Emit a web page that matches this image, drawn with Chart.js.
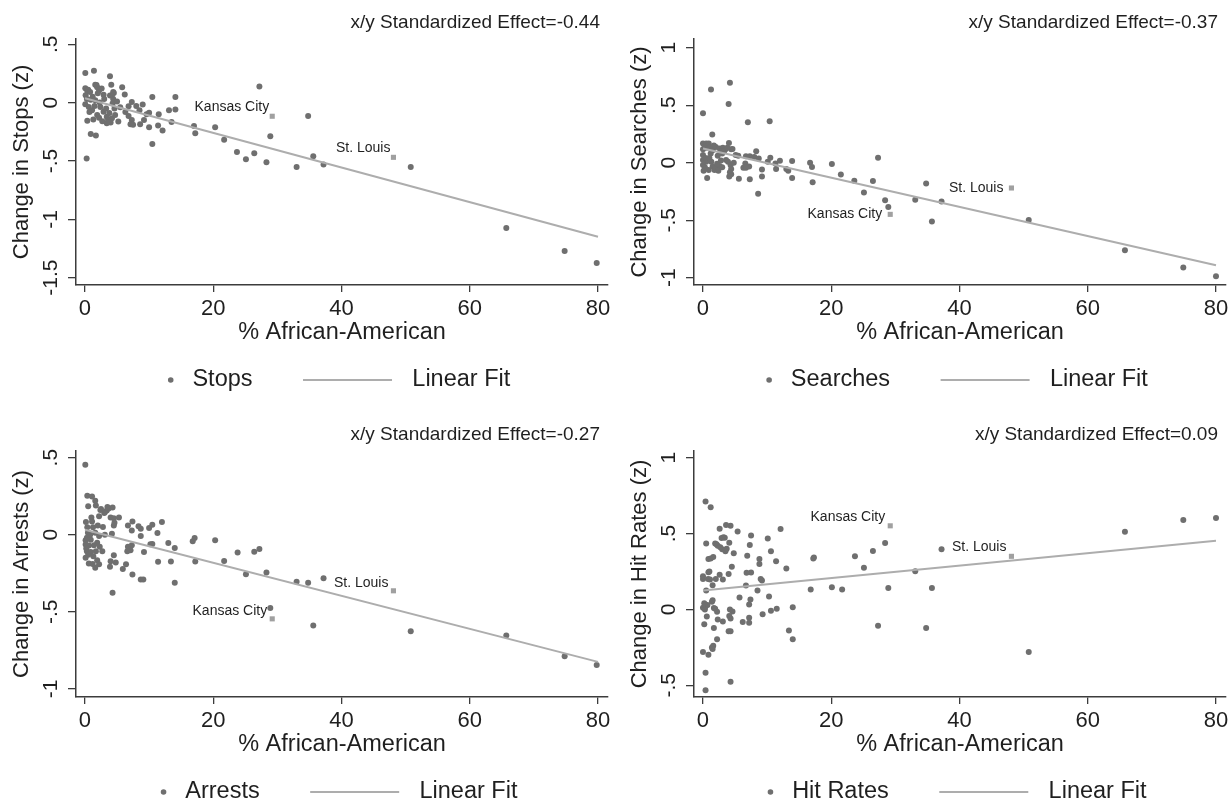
<!DOCTYPE html>
<html>
<head>
<meta charset="utf-8">
<title>Change in stops, searches, arrests and hit rates vs % African-American</title>
<script src="https://cdn.jsdelivr.net/npm/chart.js"></script>
<style>
    html, body { margin: 0; padding: 0; background: #fff; }
    #page { position: relative; width: 1229px; height: 803px; overflow: hidden; background: #fff; }
    .panel { position: absolute; width: 614px; height: 392px; }
</style>
</head>
<body>
<div id="page">
    <div class="panel" style="left:0px;top:0px"><canvas id="stops" width="614" height="392"></canvas></div>
    <div class="panel" style="left:618px;top:0px"><canvas id="searches" width="614" height="392"></canvas></div>
    <div class="panel" style="left:0px;top:412px"><canvas id="arrests" width="614" height="392"></canvas></div>
    <div class="panel" style="left:618px;top:412px"><canvas id="hitrates" width="614" height="392"></canvas></div>
</div>

<script>
// ---- data ----
const xTicks = [0, 20, 40, 60, 80];
const xLabel = '% African-American';
const fitX = [0, 80];
const cityNames = ['Kansas City', 'St. Louis'];

// [ % African-American, change (z) ]
const stopsData = [
    [0.05,0.254],[1.4,0.273],[3.9,0.225],[0.05,0.124],[0.36,0.099],[1.6,0.152],[1.9,0.132],[2.2,0.104],
    [4.1,0.152],[4.5,0.082],[4.2,0.062],[5.8,0.132],[6.2,0.07],[2.9,0.068],[0.1,0.062],[0.9,0.025],
    [1.6,0.02],[0.05,-0.014],[0.6,-0.037],[1.1,-0.065],[2.4,-0.037],[2.9,-0.079],[1.9,-0.107],[3.4,-0.121],
    [4.2,-0.135],[0.36,-0.155],[1.3,-0.144],[3.4,-0.177],[4.7,-0.107],[4.3,-0.008],[5.2,-0.163],[6.8,-0.031],
    [7.3,0.006],[6.8,-0.115],[7.3,-0.149],[7.1,-0.186],[7.5,-0.19],[8.5,-0.065],[9.0,-0.017],[8.6,-0.186],
    [9.2,-0.149],[10.0,-0.087],[10.0,-0.211],[10.5,0.048],[10.5,-0.355],[11.5,-0.099],[11.4,-0.197],[12.1,-0.239],
    [13.1,-0.065],[13.5,-0.166],[14.1,-0.059],[14.1,0.048],[17.0,-0.2],[17.2,-0.262],[20.3,-0.211],[21.7,-0.318],
    [23.7,-0.423],[0.9,-0.27],[1.7,-0.282],[0.26,-0.479],
    [0.5,0.11],[0.8,0.09],[1.2,0.05],[2.0,0.08],[2.6,0.12],[3.0,0.03],[3.3,-0.05],[3.8,-0.09],[4.4,0.03],
    [4.6,-0.05],[2.2,-0.13],[2.7,-0.16],[3.6,-0.15],[4.0,-0.17],[5.5,-0.04],[6.3,-0.08],[0.7,-0.08],[1.5,-0.03],
    [2.3,0.0],[3.9,0.06],[4.4,0.09],[1.8,0.15],[0.3,0.03],[5.0,0.01],[8.0,-0.03],[9.6,-0.1],
    [25.1,-0.486],[26.4,-0.434],[27.2,0.137],[28.3,-0.511],[28.9,-0.289],[33.0,-0.551],[34.8,-0.114],
    [35.6,-0.46],[37.2,-0.531],[50.8,-0.551],[65.7,-1.074],[74.8,-1.271],[79.8,-1.374]
];
const stopsCities = [[29.2,-0.117],[48.1,-0.469]];
const stopsFit = [0.037, -1.149];
const stopsTicks = [0.5, 0, -0.5, -1, -1.5];
const stopsTickLabels = ['.5', '0', '-.5', '-1', '-1.5'];

const searchesData = [
    [1.25,0.637],[4.2,0.694],[4.0,0.511],[0.0,0.429],[7.0,0.351],[10.4,0.36],[1.45,0.246],[0.0,0.166],
    [0.5,0.166],[0.9,0.166],[4.05,0.171],[0.0,0.117],[0.5,0.129],[1.5,0.109],[2.0,0.137],[2.6,0.123],
    [3.1,0.129],[3.5,0.117],[4.4,0.117],[2.75,0.094],[5.1,0.066],[3.6,0.023],[0.0,0.066],[0.0,0.023],
    [0.5,0.009],[0.0,-0.02],[1.3,0.009],[1.5,-0.034],[2.0,-0.049],[2.6,-0.029],[1.8,-0.063],[0.1,-0.071],
    [0.9,-0.063],[0.65,-0.134],[3.9,0.009],[4.3,-0.02],[4.4,-0.054],[4.2,-0.083],[4.1,-0.12],[5.6,-0.14],
    [6.7,0.057],[7.3,0.057],[6.6,-0.006],[6.3,-0.043],[6.7,-0.043],[7.2,-0.034],[7.3,-0.143],[8.3,0.1],
    [8.7,0.037],[9.2,-0.06],[9.2,-0.12],[10.1,0.009],[10.5,0.043],[11.3,-0.006],[11.4,-0.054],[12.0,0.017],
    [13.0,-0.054],[13.3,-0.071],[13.9,0.014],[13.9,-0.134],[16.7,0.0],[17.0,-0.037],[17.1,-0.169],[20.1,-0.011],
    [21.5,-0.103],[23.6,-0.157],[8.6,-0.269],
    [0.3,0.14],[1.0,0.13],[1.2,0.08],[2.3,0.06],[3.0,0.08],[3.3,0.1],[2.2,-0.01],[3.0,-0.04],[0.4,0.04],
    [1.0,0.04],[2.8,0.02],[0.3,-0.04],[4.6,0.12],[3.8,0.13],[1.7,0.15],[4.8,0.0],[5.5,0.06],[8.0,0.05],
    [4.4,-0.1],[2.4,-0.07],
    [25.1,-0.26],[26.5,-0.16],[27.3,0.043],[28.4,-0.326],[28.9,-0.386],[33.1,-0.323],[34.8,-0.18],
    [35.7,-0.511],[37.2,-0.337],[50.8,-0.497],[65.8,-0.76],[74.9,-0.911],[80.0,-0.986]
];
const searchesCities = [[29.2,-0.449],[48.1,-0.22]];
const searchesFit = [0.123, -0.891];
const searchesTicks = [1, 0.5, 0, -0.5, -1];
const searchesTickLabels = ['1', '.5', '0', '-.5', '-1'];

const arrestsData = [
    [0.05,0.453],[0.36,0.253],[1.1,0.247],[1.6,0.221],[0.5,0.185],[1.7,0.189],[2.5,0.167],[3.4,0.157],
    [3.7,0.17],[4.3,0.176],[3.1,0.146],[2.2,0.12],[4.0,0.112],[4.5,0.107],[5.3,0.112],[1.0,0.112],
    [0.15,0.082],[1.1,0.086],[0.36,0.049],[1.25,0.049],[0.46,0.013],[1.6,0.013],[2.2,-0.009],[3.1,0.0],
    [4.2,0.006],[4.5,0.06],[4.6,0.077],[6.7,0.06],[7.4,0.086],[7.3,0.028],[8.35,0.054],[8.7,0.039],
    [8.7,-0.009],[10.0,0.043],[10.5,0.064],[11.3,0.011],[12.0,0.082],[0.1,-0.036],[0.9,-0.032],[0.1,-0.064],
    [1.4,-0.069],[1.9,-0.052],[0.3,-0.107],[0.9,-0.112],[1.7,-0.107],[2.3,-0.079],[2.7,-0.107],[0.1,-0.15],
    [0.6,-0.187],[1.9,-0.165],[2.2,-0.191],[1.6,-0.215],[4.0,-0.172],[4.5,-0.133],[4.8,-0.18],[3.9,-0.208],
    [6.4,-0.191],[5.9,-0.223],[6.7,-0.079],[7.1,-0.101],[6.6,-0.107],[7.3,-0.069],[9.2,-0.112],[10.2,-0.062],
    [10.5,-0.06],[7.4,-0.258],[8.7,-0.29],[9.1,-0.29],[4.3,-0.376],[11.4,-0.176],[13.0,-0.054],[13.4,-0.174],
    [14.0,-0.086],[14.0,-0.311],[16.8,-0.043],[17.1,-0.021],[17.2,-0.174],[20.3,-0.036],[21.7,-0.17],[23.8,-0.116],
    [0.6,-0.07],[1.3,-0.14],[0.3,-0.02],[0.8,0.0],[2.0,0.06],[3.0,0.14],[2.8,0.05],[0.5,-0.13],[1.2,-0.19],
    [0.2,-0.09],[2.4,0.16],[3.5,0.18],
    [25.1,-0.257],[26.4,-0.111],[27.2,-0.092],[28.3,-0.246],[28.9,-0.476],[33.0,-0.306],[34.8,-0.311],
    [35.6,-0.589],[37.2,-0.283],[50.8,-0.626],[65.7,-0.654],[74.8,-0.789],[79.8,-0.846]
];
const arrestsCities = [[29.2,-0.546],[48.1,-0.364]];
const arrestsFit = [0.032, -0.825];
const arrestsTicks = [0.5, 0, -0.5, -1];
const arrestsTickLabels = ['.5', '0', '-.5', '-1'];

const hitData = [
    [80.0,0.602],[74.9,0.589],[65.8,0.512],[50.8,-0.28],[37.2,0.396],[35.7,0.142],[34.8,-0.123],[33.1,0.252],
    [28.9,0.142],[28.4,0.438],[27.3,-0.107],[26.5,0.385],[25.1,0.274],[23.7,0.35],[21.7,0.131],[20.1,0.147],
    [17.3,0.343],[17.2,0.335],[16.8,0.131],[14.0,-0.197],[14.0,0.015],[13.4,-0.138],[13.0,0.269],[12.1,0.53],
    [11.5,0.004],[11.4,0.317],[10.6,0.383],[10.6,-0.009],[10.1,0.468],[10.3,0.085],[9.2,0.19],[9.0,0.2],
    [9.3,-0.031],[8.8,0.333],[8.8,0.3],[8.5,0.125],[7.5,0.488],[7.3,0.425],[7.5,0.243],[7.4,0.066],
    [7.2,0.033],[7.2,-0.055],[7.2,-0.088],[6.8,0.241],[6.9,0.354],[6.7,0.158],[6.2,-0.083],[5.7,0.079],
    [5.4,0.514],[4.8,0.37],[4.5,0.282],[4.6,-0.013],[4.3,0.551],[4.3,-0.477],[4.1,0.44],[4.0,0.234],
    [4.2,0.0],[4.1,-0.044],[4.3,-0.06],[4.0,-0.144],[4.3,-0.144],[3.6,0.556],[3.4,0.473],[3.2,0.475],
    [3.5,0.383],[3.0,0.396],[2.6,0.532],[2.6,0.228],[3.1,0.197],[3.1,-0.079],[2.3,-0.066],[2.2,-0.197],
    [2.2,-0.015],[2.1,0.43],[2.3,0.42],[1.9,0.435],[1.5,0.16],[1.4,0.05],[1.5,0.06],[1.7,-0.123],
    [1.4,-0.25],[1.6,-0.24],[1.5,-0.26],[1.2,0.674],[0.4,0.711],[0.85,-0.298],[0.4,-0.418],[0.4,-0.532],
    [0.0,-0.28],[0.2,-0.098],[0.0,0.011],[0.0,0.2],[0.0,0.219],[0.5,0.435],[0.85,0.333],[1.2,0.335],
    [1.6,0.345],[0.85,0.245],[1.1,0.197],[0.5,0.125],[0.6,-0.046],[0.4,0.02],[0.7,0.03],[1.7,0.009],
    [0.2,0.04],[0.3,0.0],[2.0,0.2],[1.0,0.25],[0.8,0.2],[1.9,0.005],[2.9,0.47],[3.7,0.4],[2.7,0.41]
];
const hitCities = [[29.2,0.551],[48.1,0.35]];
const hitFit = [0.125, 0.453];
const hitTicks = [1, 0.5, 0, -0.5];
const hitTickLabels = ['1', '.5', '0', '-.5'];

// ---- look ----
const FONT = '"Liberation Sans", Arial, Helvetica, sans-serif';
const INK = '#1f1f1f';
const AXIS = '#3c3c3c';
const DOT = '#6f6f6f';
const CITY = '#a0a0a0';
const FIT = '#adadad';

function toPoints(pairs) {
    return pairs.map(p => ({x: p[0], y: p[1]}));
}

function makePanel(id, p) {
    // Stata style extras: effect note, rotated y tick labels, city labels, legend
    const decor = {
        id: 'decor',
        afterDraw(chart) {
            const ctx = chart.ctx;
            const area = chart.chartArea;
            const xs = chart.scales.x, ys = chart.scales.y;
            ctx.save();
            ctx.fillStyle = INK;
            ctx.textBaseline = 'middle';

            ctx.font = '19px ' + FONT;
            ctx.textAlign = 'right';
            ctx.fillText('x/y Standardized Effect=' + p.effect, area.right - 8, 23);

            ctx.font = '21px ' + FONT;
            ctx.textAlign = 'center';
            p.ticks.forEach((v, i) => {
                ctx.save();
                ctx.translate(51, ys.getPixelForValue(v));
                ctx.rotate(-Math.PI / 2);
                ctx.fillText(p.tickLabels[i], 0, 0);
                ctx.restore();
            });

            ctx.font = '14px ' + FONT;
            ctx.textAlign = 'right';
            p.cities.forEach((c, i) => {
                ctx.fillText(cityNames[i], xs.getPixelForValue(c[0]) + p.labelDx, ys.getPixelForValue(c[1]) + p.labelDy);
            });

            // legend row under the x title
            ctx.font = '23.5px ' + FONT;
            ctx.textAlign = 'left';
            const t1 = chart.data.datasets[1].label;
            const t2 = chart.data.datasets[0].label;
            const w1 = ctx.measureText(t1).width;
            const w2 = ctx.measureText(t2).width;
            const total = 3 + 21.7 + w1 + 50.5 + 89 + 20.3 + w2;
            const x0 = (area.left + area.right) / 2 - 3 - total / 2;
            const ly = 380;
            ctx.fillStyle = DOT;
            ctx.beginPath();
            ctx.arc(x0 + 3, ly, 2.8, 0, Math.PI * 2);
            ctx.fill();
            ctx.fillStyle = INK;
            ctx.fillText(t1, x0 + 24.7, ly);
            const lx = x0 + 24.7 + w1 + 50.5;
            ctx.strokeStyle = FIT;
            ctx.lineWidth = 2;
            ctx.beginPath();
            ctx.moveTo(lx, ly);
            ctx.lineTo(lx + 89, ly);
            ctx.stroke();
            ctx.fillText(t2, lx + 89 + 20.3, ly);
            ctx.restore();
        }
    };

    return new Chart(document.getElementById(id), {
        type: 'scatter',
        data: {
            datasets: [{
                type: 'line',
                label: 'Linear Fit',
                data: fitX.map((x, i) => ({x: x, y: p.fit[i]})),
                borderColor: FIT,
                borderWidth: 2,
                pointRadius: 0,
                fill: false,
                order: 0
            }, {
                label: p.name,
                data: toPoints(p.data),
                backgroundColor: DOT,
                borderWidth: 0,
                pointRadius: 3,
                order: 2
            }, {
                label: 'Cities',
                data: toPoints(p.cities),
                pointStyle: 'rect',
                backgroundColor: CITY,
                borderWidth: 0,
                pointRadius: 3.6,
                order: 1
            }]
        },
        options: {
            responsive: false,
            animation: false,
            events: [],
            layout: { padding: { left: 0, top: 39, right: 6, bottom: 45 } },
            plugins: { legend: { display: false }, tooltip: { enabled: false }, title: { display: false } },
            scales: {
                x: {
                    type: 'linear',
                    min: -1.4,
                    max: 81.56,
                    afterBuildTicks: s => { s.ticks = xTicks.map(v => ({value: v})); },
                    afterFit: s => { s.height = 62; s.paddingLeft = 0; s.paddingRight = 0; },
                    grid: { drawOnChartArea: false, drawTicks: true, tickLength: 7, color: AXIS, lineWidth: 1.3 },
                    border: { display: true, color: AXIS, width: 1.5 },
                    ticks: {
                        autoSkip: false, maxRotation: 0, padding: 4, color: INK,
                        font: { family: FONT, size: 22 },
                        callback: v => String(v)
                    },
                    title: {
                        display: true, text: xLabel, color: INK,
                        font: { family: FONT, size: 23.5 },
                        padding: { top: 0, bottom: 0.5 }
                    }
                },
                y: {
                    type: 'linear',
                    min: p.yMin,
                    max: p.yMax,
                    afterBuildTicks: s => { s.ticks = p.ticks.map(v => ({value: v})); },
                    afterFit: s => { s.width = 76; s.paddingTop = 0; s.paddingBottom = 0; },
                    grid: { drawOnChartArea: false, drawTicks: true, tickLength: 8, color: AXIS, lineWidth: 1.3 },
                    border: { display: true, color: AXIS, width: 1.5 },
                    ticks: { display: false },
                    title: {
                        display: true, text: p.yTitle, color: INK,
                        font: { family: FONT, size: 22 },
                        padding: { top: 8.5, bottom: 0 }
                    }
                }
            }
        },
        plugins: [decor]
    });
}

makePanel('stops', {
    name: 'Stops', yTitle: 'Change in Stops (z)', effect: '-0.44',
    data: stopsData, cities: stopsCities, fit: stopsFit,
    ticks: stopsTicks, tickLabels: stopsTickLabels, yMin: -1.563, yMax: 0.545,
    labelDx: -3, labelDy: -9
});
makePanel('searches', {
    name: 'Searches', yTitle: 'Change in Searches (z)', effect: '-0.37',
    data: searchesData, cities: searchesCities, fit: searchesFit,
    ticks: searchesTicks, tickLabels: searchesTickLabels, yMin: -1.063, yMax: 1.075,
    labelDx: -8, labelDy: 0
});
makePanel('arrests', {
    name: 'Arrests', yTitle: 'Change in Arrests (z)', effect: '-0.27',
    data: arrestsData, cities: arrestsCities, fit: arrestsFit,
    ticks: arrestsTicks, tickLabels: arrestsTickLabels, yMin: -1.053, yMax: 0.543,
    labelDx: -5, labelDy: -8
});
makePanel('hitrates', {
    name: 'Hit Rates', yTitle: 'Change in Hit Rates (z)', effect: '0.09',
    data: hitData, cities: hitCities, fit: hitFit,
    ticks: hitTicks, tickLabels: hitTickLabels, yMin: -0.577, yMax: 1.044,
    labelDx: -5, labelDy: -9
});
</script>
</body>
</html>
